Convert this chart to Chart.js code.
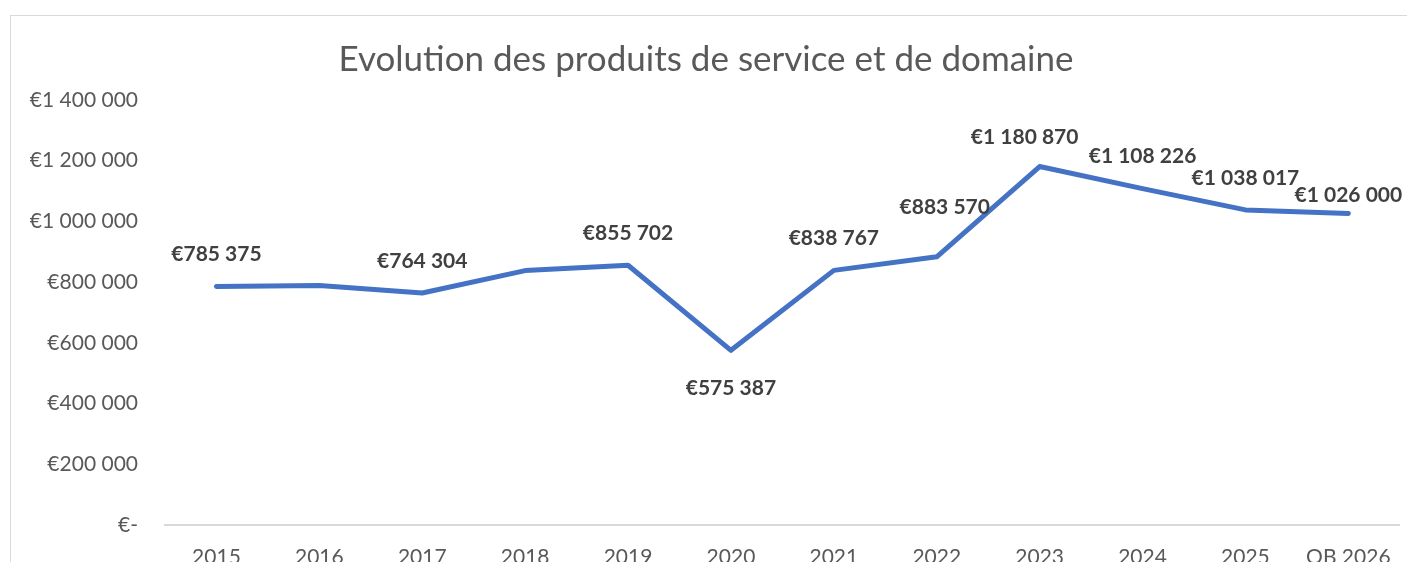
<!DOCTYPE html>
<html>
<head>
<meta charset="utf-8">
<script src="https://cdn.jsdelivr.net/npm/chart.js@4"></script>
<style>
  html, body { margin: 0; padding: 0; background: #fff; overflow: hidden; }
  #box { position: absolute; left: 10px; top: 15px; width: 1400px; height: 580px; border: 1px solid #d9d9d9; }
  #chart { display: block; }
</style>
</head>
<body>
<div id="box"><canvas id="chart" width="1400" height="580"></canvas></div>
<script>
// chart data
const categories = ['2015', '2016', '2017', '2018', '2019', '2020', '2021', '2022', '2023', '2024', '2025', 'OB 2026'];
const produits = [785375, 789000, 764304, 838000, 855702, 575387, 838767, 883570, 1180870, 1108226, 1038017, 1026000];
// which points carry a value label (2016 and 2018 have none in the original)
const labelled = [true, false, true, false, true, true, true, true, true, true, true, true];
const labelsBelow = ['2020'];
const yTicks = [0, 200000, 400000, 600000, 800000, 1000000, 1200000, 1400000];

// a few labels were dragged around by hand in the original
const labelNudge = { '2022': [8, -18], '2023': [-15, 3], 'OB 2026': [0, 14] };

function euro(v) {
    if (v === 0) return '€-';
    return '€' + Math.round(v).toString().replace(/\B(?=(\d{3})+(?!\d))/g, ' ');
}

// draws the value labels over the line
const valueLabels = {
    id: 'valueLabels',
    afterDatasetsDraw(chart) {
        const ctx = chart.ctx;
        const meta = chart.getDatasetMeta(0);
        ctx.save();
        ctx.font = 'bold 21px Lato';
        ctx.fillStyle = '#404040';
        ctx.textAlign = 'center';
        ctx.textBaseline = 'middle';
        meta.data.forEach((pt, i) => {
            if (!labelled[i]) return;
            const below = labelsBelow.includes(categories[i]);
            const nudge = labelNudge[categories[i]] || [0, 0];
            ctx.fillText(euro(produits[i]), pt.x + nudge[0], (below ? pt.y + 38 : pt.y - 32) + nudge[1]);
        });
        ctx.restore();
    }
};

const ctx = document.getElementById('chart').getContext('2d');
new Chart(ctx, {
    type: 'line',
    data: {
        labels: categories,
        datasets: [{
            data: produits,
            borderColor: '#4472C4',
            borderWidth: 5,
            borderCapStyle: 'round',
            borderJoinStyle: 'round',
            pointRadius: 0,
            tension: 0,
            fill: false
        }]
    },
    options: {
        responsive: false,
        animation: false,
        layout: { padding: { left: 0, right: 10, top: 0, bottom: 0 } },
        plugins: {
            legend: { display: false },
            tooltip: { enabled: false },
            title: {
                display: true,
                text: 'Evolution des produits de service et de domaine',
                color: '#595959',
                font: { family: 'Lato', size: 35, weight: 'normal' },
                padding: { top: 23, bottom: 19 }
            }
        },
        scales: {
            x: {
                offset: true,
                grid: { display: false, drawTicks: false },
                border: { display: true, color: '#d9d9d9', width: 2 },
                ticks: { color: '#595959', font: { family: 'Lato', size: 21 }, padding: 20, maxRotation: 0 },
                afterFit(scale) { scale.height = 71; }
            },
            y: {
                min: 0,
                max: 1400000,
                grid: { display: false, drawTicks: false },
                border: { display: false },
                afterBuildTicks(scale) { scale.ticks = yTicks.map(v => ({ value: v })); },
                ticks: {
                    color: '#595959',
                    font: { family: 'Lato', size: 21 },
                    padding: 27,
                    callback: v => euro(v)
                },
                afterFit(scale) { scale.width = 154; }
            }
        }
    },
    plugins: [valueLabels]
});
</script>
</body>
</html>
